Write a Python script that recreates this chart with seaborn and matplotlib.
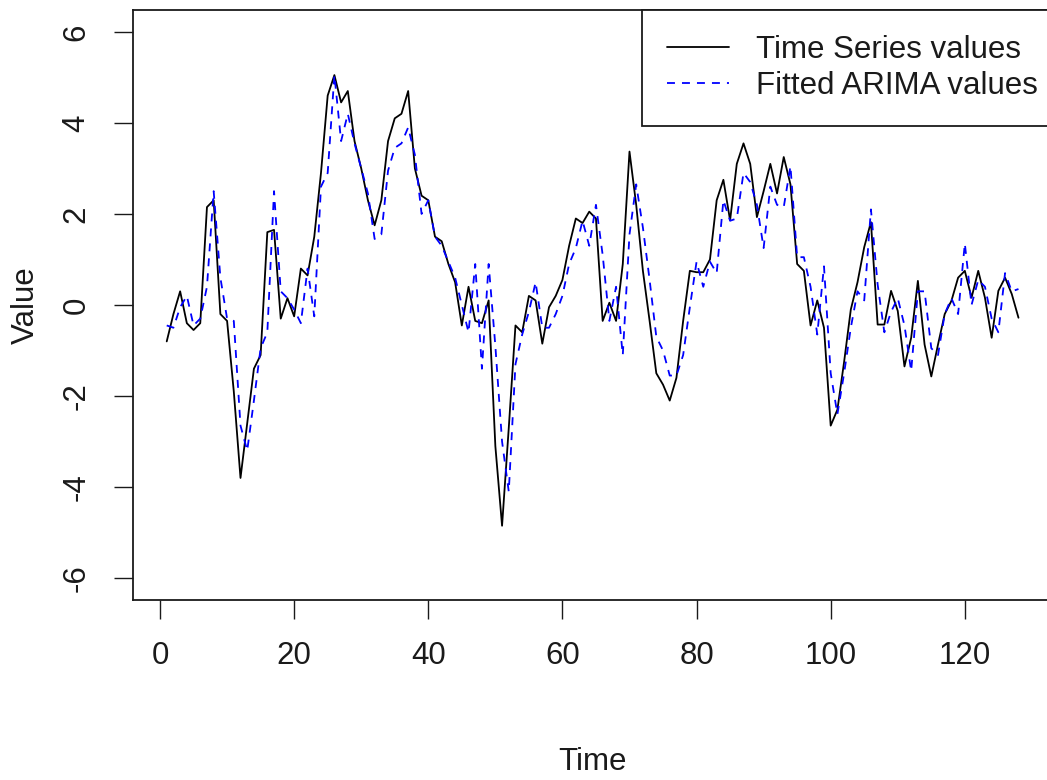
import seaborn as sns
import matplotlib.pyplot as plt
import numpy as np

time = np.arange(1, 129)

series_values = [
    -0.8, -0.2, 0.3, -0.4, -0.55, -0.4, 2.15, 2.3, -0.2, -0.35,
    -1.9, -3.8, -2.6, -1.4, -1.1, 1.6, 1.65, -0.3, 0.15, -0.25,
    0.8, 0.65, 1.5, 2.9, 4.6, 5.05, 4.45, 4.7, 3.6, 3.0,
    2.3, 1.75, 2.3, 3.6, 4.1, 4.2, 4.7, 3.0, 2.4, 2.3,
    1.5, 1.4, 0.9, 0.5, -0.45, 0.4, -0.35, -0.4, 0.1, -3.1,
    -4.85, -2.7, -0.45, -0.6, 0.2, 0.1, -0.85, -0.05, 0.2, 0.55,
    1.3, 1.9, 1.8, 2.05, 1.9, -0.35, 0.05, -0.35, 0.9, 3.37,
    2.2, 0.75, -0.35, -1.5, -1.75, -2.1, -1.6, -0.35, 0.75, 0.72,
    0.72, 1.0, 2.3, 2.75, 1.86, 3.1, 3.55, 3.1, 1.93, 2.5,
    3.1, 2.45, 3.25, 2.65, 0.9, 0.75, -0.45, 0.1, -0.5, -2.65,
    -2.3, -1.25, -0.1, 0.5, 1.27, 1.82, -0.43, -0.43, 0.31, -0.13,
    -1.35, -0.72, 0.53, -0.87, -1.57, -0.87, -0.2, 0.09, 0.6, 0.75,
    0.16, 0.75, 0.16, -0.72, 0.31, 0.6, 0.24, -0.28,
]

fitted_values = [
    -0.45, -0.5, -0.05, 0.2, -0.45, -0.3, 0.4, 2.5, 0.6, -0.3,
    -0.35, -2.65, -3.2, -2.1, -0.95, -0.6, 2.5, 0.3, 0.15, -0.1,
    -0.4, 0.8, -0.25, 2.6, 2.9, 5.05, 3.6, 4.2, 3.55, 3.0,
    2.45, 1.45, 1.55, 2.95, 3.45, 3.55, 3.9, 3.3, 2.0, 2.3,
    1.5, 1.3, 0.95, 0.6, 0.0, -0.6, 0.9, -1.4, 0.9, -0.9,
    -3.0, -4.1, -1.3, -0.65, -0.15, 0.5, -0.5, -0.5, -0.2, 0.2,
    0.9, 1.25, 1.85, 1.3, 2.2, 1.1, -0.35, 0.4, -1.1, 1.55,
    2.65, 1.7, 0.55, -0.7, -1.0, -1.55, -1.55, -1.1, -0.05, 0.95,
    0.4, 0.95, 0.7, 2.3, 1.85, 1.9, 2.9, 2.7, 2.2, 1.25,
    2.6, 2.2, 2.15, 3.05, 1.05, 1.05, 0.4, -0.65, 0.85, -1.5,
    -2.4, -1.5, -0.5, 0.3, 0.1, 2.1, 0.45, -0.6, -0.15, 0.15,
    -0.45, -1.45, 0.3, 0.3, -0.95, -1.1, -0.2, 0.15, -0.2, 1.35,
    0.0, 0.55, 0.4, -0.3, -0.6, 0.7, 0.3, 0.35,
]

x_ticks = [0, 20, 40, 60, 80, 100, 120]
y_ticks = [-6, -4, -2, 0, 2, 4, 6]

sns.set_style("ticks")
plt.rcParams['font.family'] = ['Liberation Sans', 'DejaVu Sans']
plt.rcParams['axes.unicode_minus'] = False

fig = plt.figure(figsize=(10.47, 7.8), dpi=100)
ax = fig.add_axes([0.1267, 0.2308, 0.8786, 0.7564])

sns.lineplot(x=time, y=series_values, color='black', linewidth=1.3,
             label='Time Series values', ax=ax)
sns.lineplot(x=time, y=fitted_values, color='blue', linewidth=1.3,
             linestyle=(0, (4.4, 3.9)), label='Fitted ARIMA values', ax=ax)

ax.set_xlim(-4.08, 133.08)
ax.set_ylim(-6.48, 6.48)
ax.set_xticks(x_ticks)
ax.set_yticks(y_ticks)
ax.tick_params(axis='both', direction='out', length=13.5, width=1.0,
               labelsize=22.5, colors='#1a1a1a', pad=16)
plt.setp(ax.get_yticklabels(), rotation=90, va='center')

for sp in ax.spines.values():
    sp.set_linewidth(1.3)
    sp.set_color('#1a1a1a')

ax.set_xlabel('Time', fontsize=22.5, va='center', color='#1a1a1a')
ax.set_ylabel('Value', fontsize=22.5, va='center', color='#1a1a1a')
ax.xaxis.set_label_coords(0.5, -0.274)
ax.yaxis.set_label_coords(-0.116, 0.5)

# legend box runs past the right edge like the R original
leg = ax.legend(loc='upper left', bbox_to_anchor=(0.5533, 1.0), borderaxespad=0,
                fontsize=22.5, frameon=True, fancybox=False, edgecolor='#1a1a1a',
                handlelength=2.0, handletextpad=0.85, labelspacing=0.2,
                borderpad=0.8)
leg.get_frame().set_linewidth(1.3)
leg.get_frame().set_alpha(1)
for txt in leg.get_texts():
    txt.set_color('#1a1a1a')

fig.savefig('out.png', dpi=100)
